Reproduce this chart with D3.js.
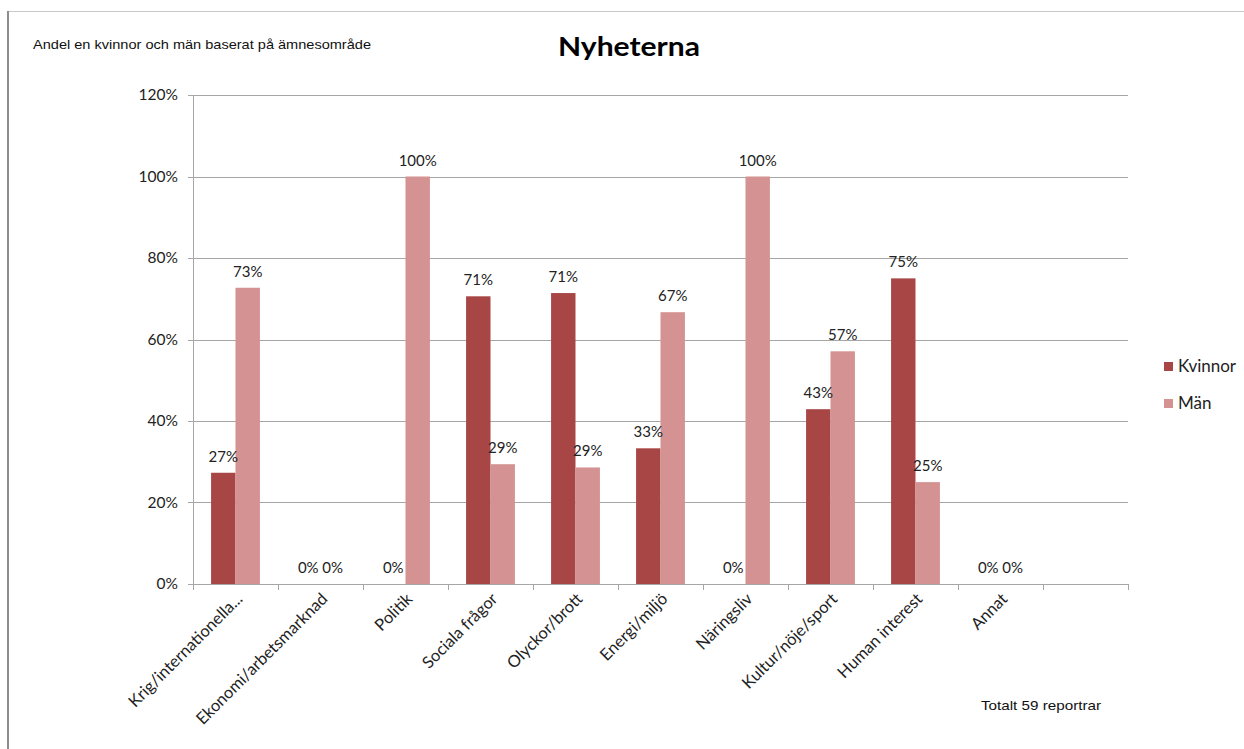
<!DOCTYPE html>
<html>
<head>
<meta charset="utf-8">
<script src="https://d3js.org/d3.v7.min.js"></script>
<style>
body { margin: 0; background: #fff; }
.calib { font-family: Lato, "Open Sans", sans-serif; fill: #222; }
.arial { font-family: "Liberation Sans", Arial, sans-serif; fill: #111; }
</style>
</head>
<body>
<div id="viz"></div>
<script>
// categories (the last slot is empty in the original)
var categories = ["Krig/internationella...", "Ekonomi/arbetsmarknad", "Politik", "Sociala frågor",
  "Olyckor/brott", "Energi/miljö", "Näringsliv", "Kultur/nöje/sport", "Human interest", "Annat", ""];
var series = ["Kvinnor", "Män"];
var kvinnor = [0.273, 0, 0, 0.706, 0.714, 0.333, 0, 0.429, 0.75, 0];
var man = [0.727, 0, 1.0, 0.294, 0.286, 0.667, 1.0, 0.571, 0.25, 0];
var yTicks = [0, 0.2, 0.4, 0.6, 0.8, 1.0, 1.2];
var colors = ["#a84646", "#d49292"];

var W = 1244, H = 749;
var margin = {top: 95, left: 193, right: 115, bottom: 165};

var svg = d3.select("#viz").append("svg")
    .attr("width", W)
    .attr("height", H);

// frame lines
svg.append("line").attr("x1", 7).attr("x2", W).attr("y1", 11.5).attr("y2", 11.5)
  .attr("stroke", "#c8c8c8").attr("stroke-width", 1);
svg.append("line").attr("x1", 8).attr("x2", 8).attr("y1", 11).attr("y2", H)
  .attr("stroke", "#8c8c8c").attr("stroke-width", 2);

var x = d3.scaleBand().domain(categories).range([margin.left, W - margin.right - 1]);
var xs = d3.scaleBand().domain(series).range([0, x.bandwidth()]).paddingOuter(0.74);
var y = d3.scaleLinear().domain([0, 1.2]).range([H - margin.bottom, margin.top]);

// gridlines
svg.append("g").selectAll("line").data(yTicks).join("line")
  .attr("x1", margin.left - 5).attr("x2", x.range()[1])
  .attr("y1", d => Math.round(y(d)) + 0.5).attr("y2", d => Math.round(y(d)) + 0.5)
  .attr("stroke", "#a6a6a6");

// y axis line
svg.append("line").attr("x1", margin.left + 0.5).attr("x2", margin.left + 0.5)
  .attr("y1", y(1.2)).attr("y2", y(0) + 1).attr("stroke", "#a6a6a6");

svg.append("g").selectAll("text").data(yTicks).join("text")
  .attr("class", "calib")
  .attr("x", margin.left - 15).attr("y", d => y(d) + 5)
  .attr("text-anchor", "end")
  .style("font-size", "15.5px")
  .text(d => d3.format(".0%")(d));

// x ticks at category boundaries
var bounds = categories.map(c => x(c)).concat([x.range()[1]]);
svg.append("g").selectAll("line").data(bounds).join("line")
  .attr("x1", d => Math.round(d) + 0.5).attr("x2", d => Math.round(d) + 0.5)
  .attr("y1", y(0)).attr("y2", y(0) + 6)
  .attr("stroke", "#a6a6a6");

// x labels
svg.append("g").selectAll("text").data(categories).join("text")
  .attr("class", "calib")
  .attr("text-anchor", "end")
  .style("font-size", "16.5px")
  .attr("transform", d => "translate(" + (x(d) + x.bandwidth() / 2 + 8) + "," + (y(0) + 16) + ") rotate(-45)")
  .text(d => d);

// bars
var rows = [];
kvinnor.forEach(function(v, i) {
  rows.push({cat: categories[i], s: "Kvinnor", v: v, c: colors[0]});
  rows.push({cat: categories[i], s: "Män", v: man[i], c: colors[1]});
});

svg.append("g").selectAll("rect").data(rows).join("rect")
  .attr("x", d => x(d.cat) + xs(d.s))
  .attr("width", xs.bandwidth())
  .attr("y", d => y(d.v))
  .attr("height", d => y(0) - y(d.v))
  .attr("fill", d => d.c);

svg.append("g").selectAll("text").data(rows).join("text")
  .attr("class", "calib")
  .attr("text-anchor", "middle")
  .style("font-size", "15px")
  .attr("x", d => x(d.cat) + xs(d.s) + xs.bandwidth() / 2)
  .attr("y", d => y(d.v) - 11)
  .text(d => d3.format(".0%")(d.v));

// title + notes
svg.append("text").attr("class", "calib")
  .attr("x", 558).attr("y", 56)
  .attr("textLength", 142).attr("lengthAdjust", "spacingAndGlyphs")
  .style("font-size", "27px").style("font-weight", "bold").style("fill", "#000")
  .text("Nyheterna");
svg.append("text").attr("class", "arial")
  .attr("x", 33).attr("y", 49)
  .attr("textLength", 338).attr("lengthAdjust", "spacingAndGlyphs")
  .style("font-size", "13px")
  .text("Andel en kvinnor och män baserat på ämnesområde");
svg.append("text").attr("class", "arial")
  .attr("x", 981).attr("y", 710)
  .attr("textLength", 120).attr("lengthAdjust", "spacingAndGlyphs")
  .style("font-size", "13px")
  .text("Totalt 59 reportrar");

// legend
var lg = svg.append("g").selectAll("g").data(series).join("g")
  .attr("transform", (d, i) => "translate(1164," + (362 + i * 37) + ")");
lg.append("rect").attr("width", 9).attr("height", 9).attr("fill", (d, i) => colors[i]);
lg.append("text").attr("class", "calib").attr("x", 14).attr("y", 10)
  .style("font-size", "17px").text(d => d);
</script>
</body>
</html>
